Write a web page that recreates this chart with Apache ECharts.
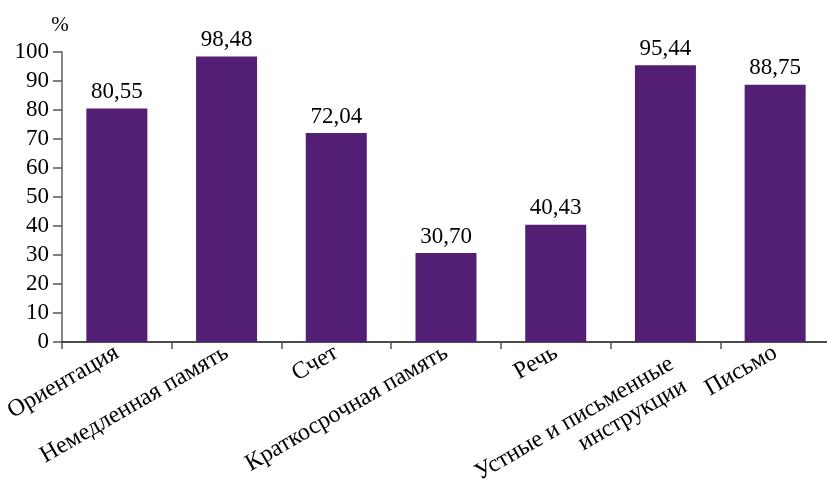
<!DOCTYPE html>
<html>
<head>
<meta charset="utf-8">
<script src="https://cdn.jsdelivr.net/npm/echarts@6/dist/echarts.min.js"></script>
<style>html,body{margin:0;padding:0;background:#fff}#c{width:827px;height:482px}</style>
</head>
<body>
<div id="c"></div>
<script>
const categories = ['Ориентация', 'Немедленная память', 'Счет', 'Краткосрочная память', 'Речь', 'Устные и письменные\nинструкции', 'Письмо'];
const values = [80.55, 98.48, 72.04, 30.70, 40.43, 95.44, 88.75];
const yTicks = [0, 10, 20, 30, 40, 50, 60, 70, 80, 90, 100];

const font = '"Liberation Serif", "DejaVu Serif", serif';
const chart = echarts.init(document.getElementById('c'));
chart.setOption({
  animation: false,
  grid: { left: 62, top: 52, width: 768, height: 290, containLabel: false, outerBoundsMode: 'none' },
  xAxis: {
    type: 'category',
    data: categories.map(c => c.indexOf('\n') >= 0 ? { value: c, textStyle: { verticalAlign: 'top', padding: [0, 0, 0, 0] } } : c),
    axisLine: { lineStyle: { color: '#111', width: 1.5 } },
    axisTick: { show: true, length: 7, lineStyle: { color: '#555', width: 1.5 } },
    axisLabel: { rotate: 30, interval: 0, margin: 9, color: '#000', fontFamily: font, fontSize: 24, lineHeight: 26 }
  },
  yAxis: {
    type: 'value',
    min: yTicks[0],
    max: yTicks[yTicks.length - 1],
    interval: 10,
    name: '%',
    nameLocation: 'end',
    nameGap: 27,
    nameTextStyle: { color: '#000', fontFamily: font, fontSize: 21, align: 'center', verticalAlign: 'middle', padding: [0, 4, 0, 0] },
    splitLine: { show: false },
    axisLine: { show: true, lineStyle: { color: '#888', width: 2 } },
    axisTick: { show: true, length: 9, lineStyle: { color: '#555', width: 1.5 } },
    axisLabel: { margin: 13, color: '#000', fontFamily: font, fontSize: 23 }
  },
  series: [{
    type: 'bar',
    data: values,
    barWidth: '55.6%',
    itemStyle: { color: '#521F75' },
    label: {
      show: true,
      position: 'top',
      distance: 5,
      color: '#000',
      fontFamily: font,
      fontSize: 23,
      formatter: p => p.value.toFixed(2).replace('.', ',')
    }
  }]
});
</script>
</body>
</html>
